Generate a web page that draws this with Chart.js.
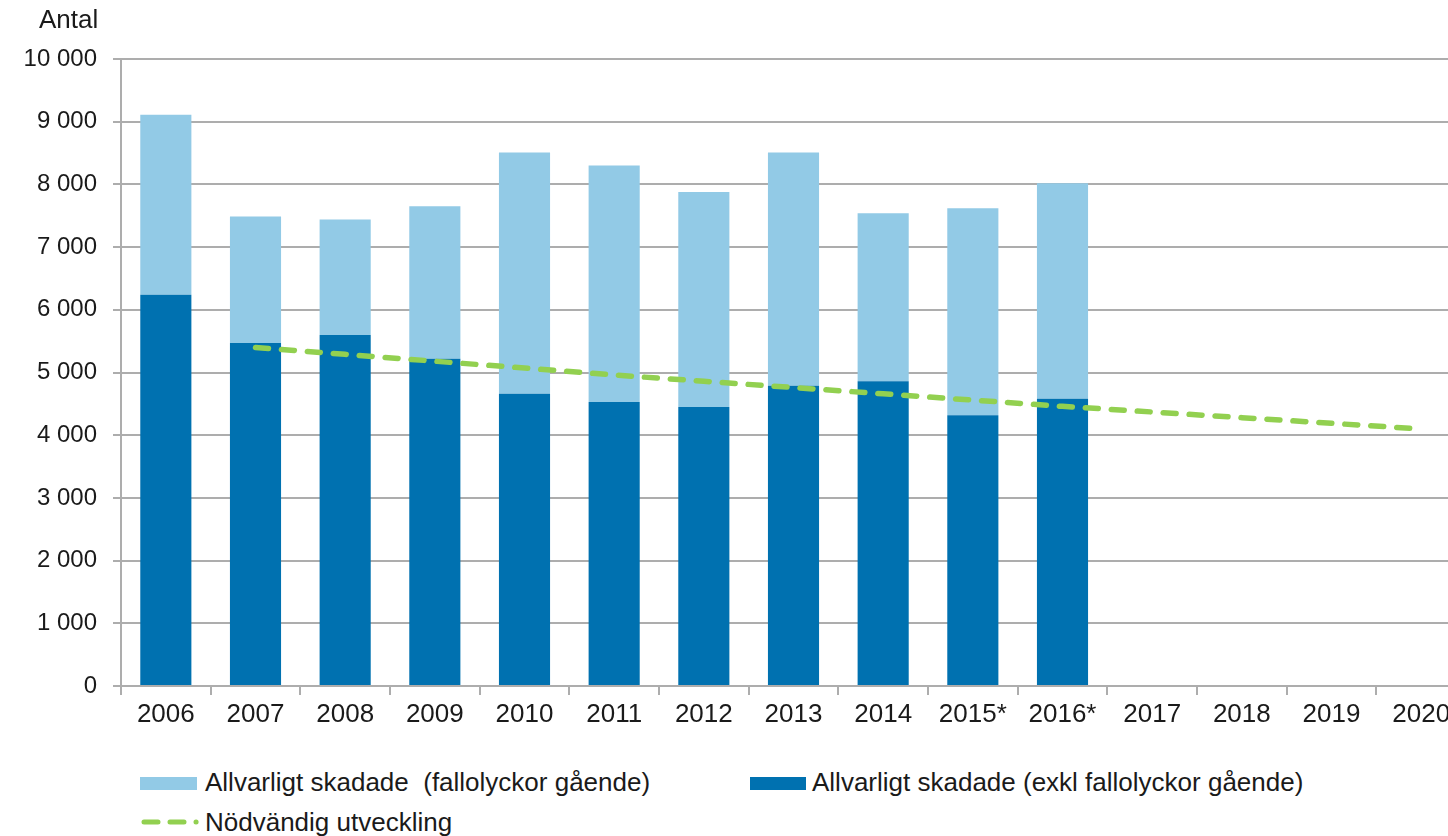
<!DOCTYPE html>
<html>
<head>
<meta charset="utf-8">
<script src="https://cdn.jsdelivr.net/npm/chart.js@4/dist/chart.umd.min.js"></script>
<style>
html, body { margin: 0; padding: 0; background: #fff; overflow: hidden; }
#wrap { position: relative; width: 1448px; height: 836px; overflow: hidden;
        font-family: "Liberation Sans", Arial, sans-serif; color: #1a1a1a; }
#chart { position: absolute; left: 0; top: 0; }
#unit { position: absolute; left: 39px; top: 4px; font-size: 26px; }
.leg { position: absolute; font-size: 26px; white-space: pre; line-height: 30px; }
.sw { position: absolute; }
</style>
</head>
<body>
<div id="wrap">
  <canvas id="chart" width="1480" height="745"></canvas>
  <div id="unit">Antal</div>
  <div class="sw" style="left:140px;top:777px;width:57px;height:13px;background:#92CAE6"></div>
  <div class="leg" style="left:205px;top:767px">Allvarligt skadade  (fallolyckor gående)</div>
  <div class="sw" style="left:750px;top:777px;width:56px;height:13px;background:#0071B0"></div>
  <div class="leg" style="left:812px;top:767px">Allvarligt skadade (exkl fallolyckor gående)</div>
  <svg class="sw" style="left:136px;top:815px" width="70" height="14">
    <line x1="8" y1="7" x2="61" y2="7" stroke="#92D050" stroke-width="5" stroke-linecap="round" stroke-dasharray="14 12 14 12 0.1 20"/>
  </svg>
  <div class="leg" style="left:205px;top:807px">Nödvändig utveckling</div>
</div>
<script>
const years = ['2006','2007','2008','2009','2010','2011','2012','2013','2014','2015*','2016*','2017','2018','2019','2020'];

// allvarligt skadade exkl fallolyckor gående
const exklFall = [6240, 5470, 5600, 5220, 4660, 4530, 4450, 4790, 4860, 4320, 4580, null, null, null, null];
// fallolyckor gående (del ovanpå)
const fallGaende = [2870, 2020, 1840, 2430, 3850, 3770, 3430, 3720, 2680, 3300, 3440, null, null, null, null];
// nödvändig utveckling till 2020
const nodvandig = [null, 5400, 5290, 5180, 5070, 4960, 4860, 4760, 4660, 4560, 4460, 4370, 4280, 4190, 4100];

const yTicks = [0, 1000, 2000, 3000, 4000, 5000, 6000, 7000, 8000, 9000, 10000];

const gridCol = '#ADADAD';
const textCol = '#1a1a1a';

const ctx = document.getElementById('chart').getContext('2d');

const chart = new Chart(ctx, {
    type: 'bar',
    data: {
        labels: years,
        datasets: [
            {
                type: 'line',
                label: 'Nödvändig utveckling',
                data: nodvandig,
                borderColor: '#92D050',
                borderWidth: 5.5,
                borderDash: [13, 13],
                borderCapStyle: 'round',
                pointRadius: 0,
                fill: false,
                tension: 0,
                stack: 'trend',
                order: 0
            },
            {
                label: 'Allvarligt skadade (exkl fallolyckor gående)',
                data: exklFall,
                backgroundColor: '#0071B0',
                stack: 'bars',
                order: 1
            },
            {
                label: 'Allvarligt skadade  (fallolyckor gående)',
                data: fallGaende,
                backgroundColor: '#92CAE6',
                stack: 'bars',
                order: 1
            }
        ]
    },
    options: {
        responsive: false,
        animation: false,
        layout: { padding: { top: 59, right: 14, left: 0, bottom: 0 } },
        datasets: {
            bar: { barPercentage: 0.57, categoryPercentage: 1 }
        },
        plugins: {
            legend: { display: false },
            tooltip: { enabled: false }
        },
        scales: {
            x: {
                stacked: true,
                offset: true,
                grid: {
                    offset: true,
                    drawOnChartArea: false,
                    drawTicks: true,
                    tickLength: 9,
                    color: gridCol,
                    lineWidth: 2
                },
                border: { display: true, color: gridCol, width: 2 },
                ticks: {
                    color: textCol,
                    padding: 4,
                    maxRotation: 0,
                    autoSkip: false,
                    font: { family: 'Liberation Sans', size: 26 }
                },
                afterFit: (scale) => { scale.height = 59; }
            },
            y: {
                stacked: true,
                min: 0,
                max: 10000,
                afterBuildTicks: (scale) => { scale.ticks = yTicks.map(v => ({ value: v })); },
                grid: {
                    color: gridCol,
                    lineWidth: 2,
                    tickLength: 8
                },
                border: { display: true, color: gridCol, width: 2 },
                ticks: {
                    color: textCol,
                    padding: 16,
                    font: { family: 'Liberation Sans', size: 24 },
                    callback: (v) => String(v).replace(/\B(?=(\d{3})+(?!\d))/g, ' ')
                },
                afterFit: (scale) => { scale.width = 121; }
            }
        }
    }
});
</script>
</body>
</html>
